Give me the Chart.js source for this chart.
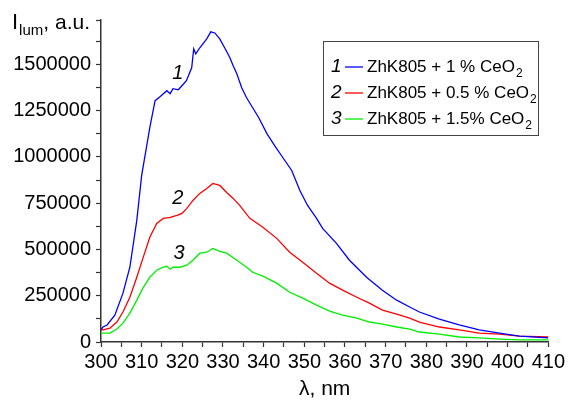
<!DOCTYPE html>
<html lang="en">
<head>
  <meta charset="UTF-8" />
  <title>Luminescence spectra</title>
  <script src="https://cdn.jsdelivr.net/npm/chart.js"></script>
  <style>
    body { margin: 0; padding: 0; background: #fff; }
    canvas { display: block; }
  </style>
</head>
<body>
  <canvas id="spectra" width="568" height="400"></canvas>

  <script>
    // curve 1: ZhK805 + 1 % CeO2
    const lambda1 = [300, 300.5, 301.5, 303.4, 305.4, 307.1, 308.8, 310, 312, 313.3, 314.5, 316.2, 317, 317.7, 319, 319.9, 321, 322.3, 322.8, 323.3, 324.3, 326, 327, 328, 329.2, 330.4, 331.7, 332.5, 333.4, 334.6, 335.8, 337.3, 338.8, 340.8, 342.7, 344.7, 346.9, 348.9, 350.8, 353, 354.5, 357.9, 361.1, 365.3, 369.2, 372.7, 375.9, 378.3, 383.2, 388.1, 393, 398, 402.9, 410];
    const lum1 = [65000, 81000, 92000, 145000, 264000, 404000, 657000, 900000, 1158000, 1304000, 1325000, 1358000, 1342000, 1369000, 1363000, 1385000, 1412000, 1482000, 1584000, 1557000, 1590000, 1638000, 1676000, 1670000, 1638000, 1590000, 1536000, 1493000, 1450000, 1374000, 1320000, 1266000, 1212000, 1126000, 1061000, 997000, 927000, 819000, 738000, 668000, 614000, 533000, 442000, 350000, 280000, 226000, 189000, 162000, 124000, 92000, 65000, 48000, 32000, 22000];

    // curve 2: ZhK805 + 0.5 % CeO2
    const lambda2 = [300, 300.5, 302.2, 303.9, 305.4, 307.1, 308.8, 310.3, 312, 313.7, 315.3, 317, 318.7, 319.9, 321.1, 322.6, 324.3, 326, 327.5, 329.2, 330.9, 332.5, 334.1, 336.6, 339.8, 343.2, 346.4, 349.6, 353, 356.2, 359.4, 362.9, 366, 369.2, 372.7, 375.9, 378.3, 383.2, 388.1, 393, 398, 402.9, 410];
    const lum2 = [65000, 66000, 75000, 108000, 162000, 242000, 350000, 452000, 566000, 641000, 668000, 673000, 684000, 695000, 722000, 765000, 803000, 830000, 857000, 846000, 808000, 776000, 738000, 668000, 620000, 560000, 485000, 431000, 372000, 318000, 280000, 242000, 210000, 172000, 151000, 129000, 108000, 81000, 65000, 48000, 43000, 32000, 27000];

    // curve 3: ZhK805 + 1.5% CeO2
    const lambda3 = [300, 302.2, 303.9, 305.4, 307.1, 308.8, 310.3, 312, 313.7, 315.3, 316.2, 317, 317.7, 319.4, 321.1, 322.6, 324.3, 326, 327.5, 329.2, 330.9, 333.4, 335.8, 337.3, 339.8, 343.2, 346.4, 349.6, 353, 356.2, 359.4, 362.9, 366, 369.2, 372.7, 375.9, 378.3, 383.2, 388.1, 393, 398, 402.9, 410];
    const lum3 = [48000, 48000, 70000, 102000, 156000, 226000, 291000, 350000, 388000, 404000, 409000, 393000, 404000, 404000, 415000, 442000, 480000, 485000, 506000, 490000, 480000, 442000, 404000, 377000, 356000, 318000, 269000, 237000, 199000, 167000, 145000, 129000, 108000, 97000, 81000, 70000, 54000, 43000, 27000, 22000, 16000, 11000, 11000];

    const seriesNames = ['ZhK805 + 1 % CeO', 'ZhK805 + 0.5 % CeO', 'ZhK805 + 1.5% CeO'];
    const seriesNums = ['1', '2', '3'];
    const seriesColors = ['#0000ff', '#ff0000', '#00ee00'];

    // axis ticks (labelled majors + unlabelled minors)
    const xMajor = [300, 310, 320, 330, 340, 350, 360, 370, 380, 390, 400, 410];
    const xMinor = [305, 315, 325, 335, 345, 355, 365, 375, 385, 395, 405];
    const yMajor = [0, 250000, 500000, 750000, 1000000, 1250000, 1500000];
    const yMinor = [125000, 375000, 625000, 875000, 1125000, 1375000, 1625000, 1740000];

    // curve number labels placed in data coordinates
    const tagLambda = [318.9, 318.9, 319.2];
    const tagLum = [1450000, 776000, 480000];

    const FONT = "'Liberation Sans', Arial, sans-serif";

    function pts(xs, ys) {
      return xs.map((x, i) => ({ x: x, y: ys[i] }));
    }
    function tickList(major, minor) {
      return major.concat(minor).sort((a, b) => a - b).map(v => ({ value: v }));
    }

    const extras = {
      id: 'extras',
      afterDraw(chart) {
        const ctx = chart.ctx;
        const xs = chart.scales.x, ys = chart.scales.y;
        ctx.save();
        ctx.fillStyle = '#000';

        // y title: I_lum, a.u.
        ctx.textBaseline = 'alphabetic';
        ctx.textAlign = 'left';
        ctx.font = '22px ' + FONT;
        let x = 12;
        ctx.fillText('I', x, 29);
        x += ctx.measureText('I').width + 1;
        ctx.font = '15px ' + FONT;
        ctx.fillText('lum', x, 35);
        x += ctx.measureText('lum').width;
        ctx.font = '21px ' + FONT;
        ctx.fillText(', a.u.', x, 29);

        // curve numbers
        ctx.font = 'italic 20px ' + FONT;
        ctx.textAlign = 'center';
        ctx.textBaseline = 'middle';
        for (let i = 0; i < 3; i++) {
          ctx.fillText(seriesNums[i], xs.getPixelForValue(tagLambda[i]), ys.getPixelForValue(tagLum[i]));
        }

        // legend box
        ctx.strokeStyle = '#444';
        ctx.lineWidth = 1;
        ctx.strokeRect(323.5, 41.5, 215, 94);
        for (let i = 0; i < 3; i++) {
          const cy = 67 + i * 26;
          ctx.font = 'italic 19px ' + FONT;
          ctx.textAlign = 'left';
          ctx.textBaseline = 'middle';
          ctx.fillStyle = '#000';
          ctx.fillText(seriesNums[i], 331, cy);
          ctx.strokeStyle = seriesColors[i];
          ctx.lineWidth = 1.3;
          ctx.beginPath();
          ctx.moveTo(345, cy);
          ctx.lineTo(363, cy);
          ctx.stroke();
          ctx.font = '17px ' + FONT;
          ctx.fillText(seriesNames[i], 367, cy);
          const w = ctx.measureText(seriesNames[i]).width;
          ctx.font = '12px ' + FONT;
          ctx.fillText('2', 367 + w + 1, cy + 7);
        }
        ctx.restore();
      }
    };

    new Chart(document.getElementById('spectra').getContext('2d'), {
      type: 'line',
      data: {
        datasets: [
          { data: pts(lambda1, lum1), borderColor: seriesColors[0] },
          { data: pts(lambda2, lum2), borderColor: seriesColors[1] },
          { data: pts(lambda3, lum3), borderColor: seriesColors[2] }
        ]
      },
      options: {
        responsive: false,
        animation: false,
        devicePixelRatio: 1,
        layout: { padding: { top: 20, right: 19, left: 0, bottom: 0 } },
        elements: {
          point: { radius: 0 },
          line: { borderWidth: 1.3, tension: 0 }
        },
        plugins: {
          legend: { display: false },
          tooltip: { enabled: false }
        },
        scales: {
          x: {
            type: 'linear',
            min: 300,
            max: 410,
            afterBuildTicks(s) { s.ticks = tickList(xMajor, xMinor); },
            afterFit(s) { s.height = 58; },
            border: { display: true, color: '#333', width: 1.5 },
            grid: { drawOnChartArea: false, drawTicks: true, tickLength: 5, tickColor: '#333', tickWidth: 1.2 },
            ticks: {
              autoSkip: false,
              maxRotation: 0,
              padding: 3,
              color: '#000',
              font: { family: FONT, size: 20 },
              callback: v => (xMajor.includes(v) ? String(v) : '')
            },
            title: {
              display: true,
              text: 'λ, nm',
              color: '#000',
              font: { family: FONT, size: 21, lineHeight: 1 },
              padding: { top: 0, bottom: 0 }
            }
          },
          y: {
            min: 0,
            max: 1740000,
            afterBuildTicks(s) { s.ticks = tickList(yMajor, yMinor); },
            afterFit(s) { s.width = 101; },
            border: { display: true, color: '#333', width: 1.5 },
            grid: { drawOnChartArea: false, drawTicks: true, tickLength: 5, tickColor: '#333', tickWidth: 1.2 },
            ticks: {
              autoSkip: false,
              padding: 5,
              color: '#000',
              font: { family: FONT, size: 20 },
              callback: v => (yMajor.includes(v) ? String(v) : '')
            }
          }
        }
      },
      plugins: [extras]
    });
  </script>
</body>
</html>
